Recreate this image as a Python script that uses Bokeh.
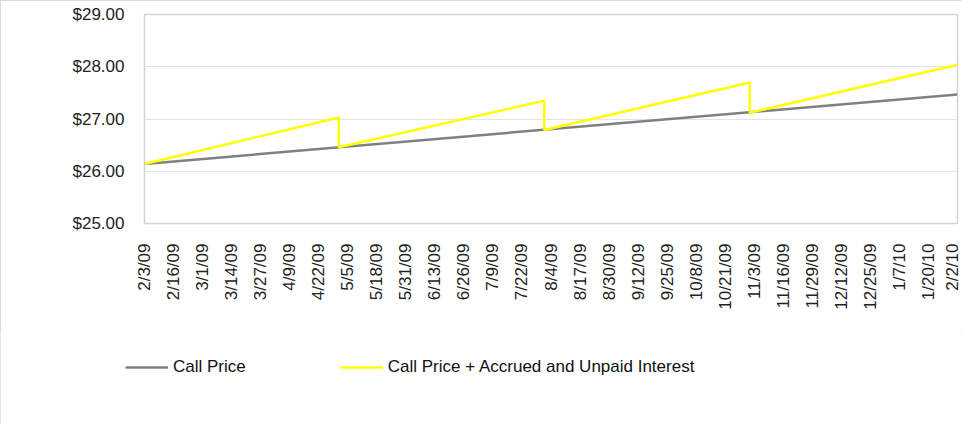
import math
import pandas as pd
from bokeh.plotting import figure
from bokeh.layouts import column
from bokeh.models import (ColumnDataSource, Range1d, FixedTicker, NumeralTickFormatter,
                          CustomJSTickFormatter, Legend, LegendItem)
from bokeh.embed import file_html
from bokeh.resources import INLINE

# ---- data ----
call_dates = ["2009-02-03", "2010-02-02"]
call_price = [26.14, 27.47]

accr_dates = ["2009-02-03", "2009-05-01", "2009-05-01", "2009-08-01", "2009-08-01",
              "2009-11-01", "2009-11-01", "2010-02-02"]
accr_price = [26.14, 27.03, 26.46, 27.35, 26.79, 27.70, 27.12, 28.04]

tick_labels = ["2/3/09", "2/16/09", "3/1/09", "3/14/09", "3/27/09", "4/9/09", "4/22/09",
               "5/5/09", "5/18/09", "5/31/09", "6/13/09", "6/26/09", "7/9/09", "7/22/09",
               "8/4/09", "8/17/09", "8/30/09", "9/12/09", "9/25/09", "10/8/09", "10/21/09",
               "11/3/09", "11/16/09", "11/29/09", "12/12/09", "12/25/09", "1/7/10",
               "1/20/10", "2/2/10"]
y_ticks = [25, 26, 27, 28, 29]
series_names = ["Call Price", "Call Price + Accrued and Unpaid Interest"]
series_colors = ["#808080", "#ffff00"]

FONT = "Liberation Sans"

tick_ms = [float(v) for v in pd.to_datetime(tick_labels, format="%m/%d/%y")
           .values.astype("datetime64[ms]").astype("int64")]

src_call = ColumnDataSource(dict(x=pd.to_datetime(call_dates), y=call_price))
src_accr = ColumnDataSource(dict(x=pd.to_datetime(accr_dates), y=accr_price))
sources = [src_call, src_accr]

W = 961
H_MAIN = 330
H_LEG = 94

p = figure(width=W, height=H_MAIN, x_axis_type="datetime", output_backend="svg",
           toolbar_location=None,
           x_range=Range1d(tick_ms[0], tick_ms[-1]), y_range=Range1d(25, 29),
           min_border_left=144, min_border_right=4, min_border_top=14,
           min_border_bottom=107)

for src, col in zip(sources, series_colors):
    p.line("x", "y", source=src, line_color=col, line_width=2.5)

p.outline_line_color = "#d4d4d4"
p.outline_line_width = 1.5
p.xgrid.grid_line_color = None
p.ygrid.grid_line_color = "#e3e3e3"
p.ygrid.grid_line_width = 1

p.yaxis.ticker = FixedTicker(ticks=y_ticks)
p.yaxis.formatter = NumeralTickFormatter(format="$0.00")
p.xaxis.ticker = FixedTicker(ticks=tick_ms)
p.xaxis.formatter = CustomJSTickFormatter(args=dict(tvals=tick_ms, tlabels=tick_labels), code="""
    const i = tvals.indexOf(tick);
    return i >= 0 ? tlabels[i] : "";
""")
p.xaxis.major_label_orientation = math.pi / 2

for ax in (p.xaxis[0], p.yaxis[0]):
    ax.axis_line_color = None
    ax.major_tick_line_color = None
    ax.minor_tick_line_color = None
    ax.major_label_text_font = FONT
    ax.major_label_text_font_size = "17px"
    ax.major_label_text_color = "#222222"
    ax.major_label_standoff = 14

# legend strip below the chart (its lines lie outside its own visible range)
lg = figure(width=W, height=H_LEG, output_backend="svg", toolbar_location=None,
            x_axis_location=None, y_axis_location=None,
            x_range=Range1d(0, 1), y_range=Range1d(0, 1),
            min_border=0, min_border_left=0, min_border_right=0,
            min_border_top=0, min_border_bottom=0)
lg.outline_line_color = None
lg.grid.grid_line_color = None

legend_x = -19
if "frame_align" in lg.properties():
    lg.frame_align = False
    legend_x = 125

items = []
for name, src, col in zip(series_names, sources, series_colors):
    r = lg.line("x", "y", source=src, line_color=col, line_width=2.5)
    items.append(LegendItem(label=name, renderers=[r]))
legend = Legend(items=items, orientation="horizontal", location=(legend_x, 47),
                glyph_width=43, glyph_height=20, label_standoff=5, spacing=94,
                padding=0, margin=0, border_line_color=None, background_fill_alpha=0,
                label_text_font=FONT, label_text_font_size="17px", label_text_color="#111111")
lg.add_layout(legend, "center")

layout = column(p, lg, spacing=0)
layout.styles = {"outline": "1px solid #cfcfcf", "outline-offset": "-1px"}

open("out.html", "w").write(file_html(layout, INLINE))
